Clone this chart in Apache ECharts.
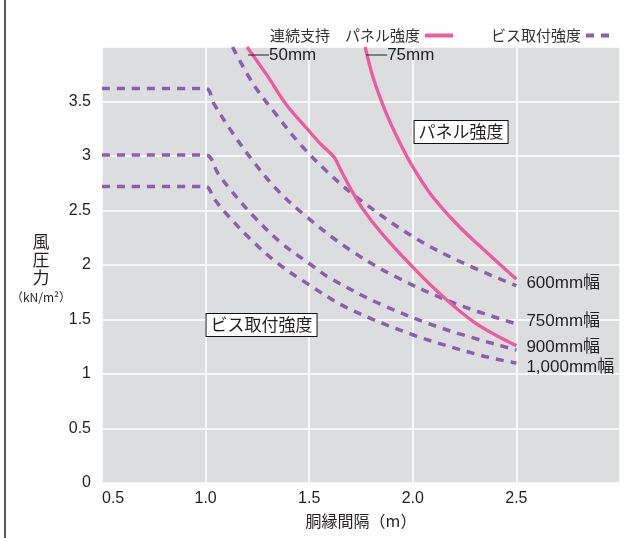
<!DOCTYPE html>
<html>
<head>
<meta charset="utf-8">
<script src="https://cdn.jsdelivr.net/npm/echarts@6/dist/echarts.min.js"></script>
<style>
html,body{margin:0;padding:0;background:#fff;}
#chart{width:633px;height:538px;}
</style>
</head>
<body>
<div id="chart"></div>
<script>
// ---- data ----
const xTicks = [0.5, 1.0, 1.5, 2.0, 2.5];
const yTicks = [0, 0.5, 1, 1.5, 2, 2.5, 3, 3.5];

// パネル強度 (連続支持)
const panel50X = [1.20, 1.30, 1.39, 1.49, 1.555, 1.62, 1.645, 1.70, 1.76, 1.85, 2.00, 2.14, 2.30, 2.50];
const panel50Y = [4.00, 3.73, 3.47, 3.25, 3.11, 2.99, 2.90, 2.70, 2.51, 2.29, 1.98, 1.72, 1.47, 1.26];
const panel75X = [1.77, 1.81, 1.87, 1.93, 2.00, 2.09, 2.22, 2.36, 2.50];
const panel75Y = [4.00, 3.71, 3.40, 3.15, 2.90, 2.64, 2.36, 2.11, 1.87];

// ビス取付強度
const screw600X = [1.13, 1.23, 1.345, 1.46, 1.59, 1.73, 2.00, 2.23, 2.50];
const screw600Y = [4.00, 3.66, 3.37, 3.10, 2.85, 2.62, 2.26, 2.03, 1.81];
const screw750X = [0.5, 1.0, 1.04, 1.12, 1.23, 1.345, 1.47, 1.68, 1.91, 2.20, 2.50];
const screw750Y = [3.62, 3.62, 3.48, 3.24, 2.95, 2.69, 2.47, 2.16, 1.90, 1.65, 1.46];
const screw900X = [0.5, 1.0, 1.06, 1.12, 1.23, 1.36, 1.51, 1.60, 1.845, 2.14, 2.50];
const screw900Y = [3.01, 3.01, 2.84, 2.69, 2.45, 2.21, 2.00, 1.88, 1.64, 1.42, 1.22];
const screw1000X = [0.5, 1.0, 1.04, 1.095, 1.215, 1.345, 1.49, 1.68, 2.00, 2.33, 2.50];
const screw1000Y = [2.72, 2.72, 2.61, 2.48, 2.24, 2.02, 1.83, 1.61, 1.36, 1.17, 1.10];

const panelNames = ['50mm', '75mm'];
const widthNames = ['600mm幅', '750mm幅', '900mm幅', '1,000mm幅'];
const legendNames = ['パネル強度', 'ビス取付強度'];
const boxLabels = ['パネル強度', 'ビス取付強度'];
const boxAt = [[2.233, 3.22], [1.27, 1.45]];

// ---- styles ----
const PINK = '#EE5A9B';
const PURPLE = '#8A5FAD';
const BG = '#DCDDDF';
const TXT = '#231F20';
const CJK = '"Noto Sans CJK JP", sans-serif';
const LAT = '"Liberation Sans", "Noto Sans CJK JP", Arial, sans-serif';

function zip(xs, ys) { return xs.map((x, i) => [x, ys[i]]); }

const widthOffsets = [[0, -2], [0, -3], [0, -3], [0, 4]];
const screwSets = [[screw600X, screw600Y], [screw750X, screw750Y], [screw900X, screw900Y], [screw1000X, screw1000Y]];
const panelSets = [[panel50X, panel50Y], [panel75X, panel75Y]];

const series = [];
screwSets.forEach((s, i) => {
  series.push({
    type: 'line', name: legendNames[1], data: zip(s[0], s[1]),
    symbol: 'none', smooth: 0.35, silent: true,
    lineStyle: { color: PURPLE, width: 3.5, type: [8, 7] },
    itemStyle: { color: PURPLE },
    endLabel: {
      show: true, formatter: widthNames[i], distance: 10, offset: widthOffsets[i],
      fontSize: 17, color: TXT, fontFamily: LAT
    },
    z: 2
  });
});
panelSets.forEach((s, i) => {
  const ser = {
    type: 'line', name: legendNames[0], data: zip(s[0], s[1]),
    symbol: 'none', smooth: 0.35, silent: true,
    lineStyle: { color: PINK, width: 3.3 },
    itemStyle: { color: PINK },
    markPoint: {
      symbol: 'circle', symbolSize: 0, silent: true,
      data: [{
        coord: [s[0][0], s[1][0]],
        label: {
          show: true, position: 'right', distance: 1, offset: [0, 8],
          formatter: '{l|}' + panelNames[i],
          fontSize: 17, color: TXT, fontFamily: LAT,
          rich: { l: { width: 21, height: 1, backgroundColor: TXT } }
        }
      }]
    },
    z: 3
  };
  if (i === 0) {
    ser.markPoint.data.push(...boxLabels.map((t, k) => ({
      coord: boxAt[k],
      label: {
        show: true, position: 'inside', formatter: t,
        fontSize: 17, color: TXT, fontFamily: CJK,
        backgroundColor: '#fff', borderColor: '#111', borderWidth: 1,
        padding: [3, 4, 2, 4]
      }
    })));
  }
  series.push(ser);
});

const chart = echarts.init(document.getElementById('chart'), null, { renderer: 'canvas' });
chart.setOption({
  animation: false,
  backgroundColor: '#fff',
  grid: { left: 102, right: 13, top: 47, bottom: 55, show: true, backgroundColor: BG, borderWidth: 0 },
  legend: {
    data: legendNames, top: 23, right: 12, align: 'right',
    itemWidth: 28, itemHeight: 10, itemGap: 36,
    itemStyle: { opacity: 0 },
    lineStyle: { width: 4 },
    formatter: n => n === legendNames[0] ? '連続支持　パネル強度' : n,
    textStyle: { fontSize: 15, color: '#333', fontFamily: CJK }
  },
  xAxis: {
    type: 'value', min: 0.5, max: 3.0, interval: 0.5,
    name: '胴縁間隔（m）', nameLocation: 'middle', nameGap: 30,
    nameTextStyle: { fontSize: 16, color: TXT, fontFamily: CJK },
    axisLine: { show: false }, axisTick: { show: false },
    axisLabel: {
      fontSize: 16, color: TXT, fontFamily: LAT, margin: 8, alignMinLabel: 'left',
      formatter: v => xTicks.some(t => Math.abs(t - v) < 1e-6) ? v.toFixed(1) : ''
    },
    splitLine: { show: true, lineStyle: { color: '#fff', width: 1.5 } }
  },
  yAxis: {
    type: 'value', min: 0, max: 4, interval: 0.5,
    name: '{a|風}\n{a|圧}\n{a|力}\n{b|（kN/m²）}', nameLocation: 'middle', nameRotate: 0, nameGap: 61,
    nameMoveOverlap: false,
    nameTextStyle: {
      align: 'center', verticalAlign: 'middle', padding: [10, 0, 0, 0], fontFamily: CJK, color: TXT,
      rich: {
        a: { fontSize: 17, lineHeight: 18, align: 'center', fontFamily: CJK, color: TXT },
        b: { fontSize: 12, lineHeight: 20, align: 'center', fontFamily: CJK, color: TXT }
      }
    },
    axisLine: { show: false }, axisTick: { show: false },
    axisLabel: {
      fontSize: 16, color: TXT, fontFamily: LAT, margin: 11,
      formatter: v => yTicks.some(t => Math.abs(t - v) < 1e-6) ? String(v) : ''
    },
    splitLine: { show: true, lineStyle: { color: '#fff', width: 1.5 } }
  },
  graphic: [{
    type: 'line', shape: { x1: 5, y1: 0, x2: 5, y2: 538 },
    style: { stroke: '#222', lineWidth: 1.5 }, silent: true
  }],
  series: series
});
</script>
</body>
</html>
